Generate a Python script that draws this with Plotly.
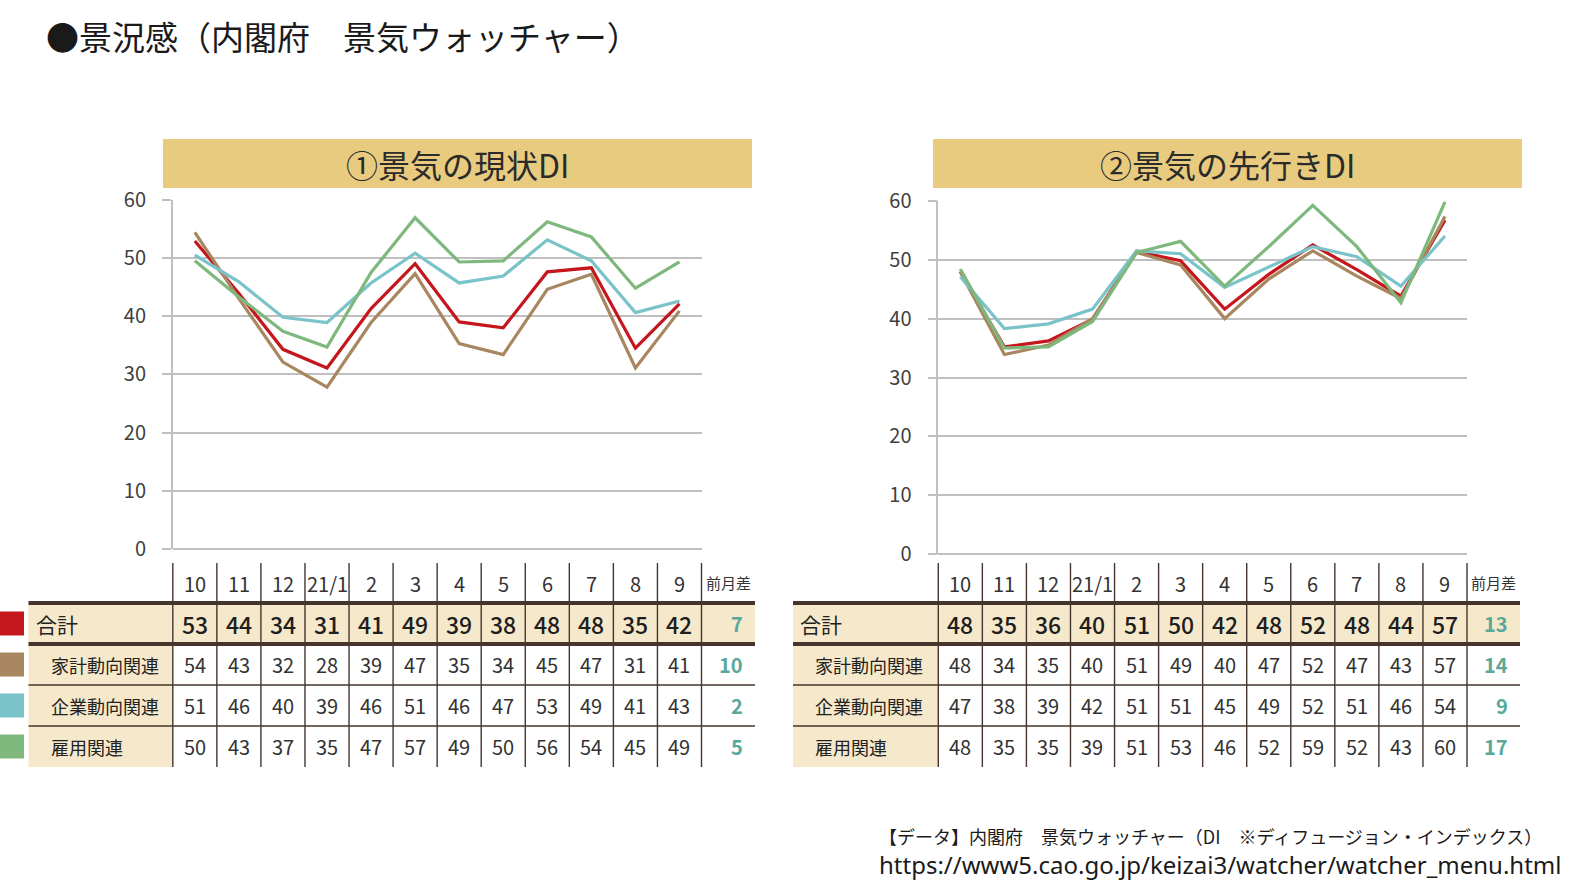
import plotly.graph_objects as go

W, H = 1594, 893
FONT = "Noto Sans CJK JP"

# ---------------- data ----------------
months = ["10", "11", "12", "21/1", "2", "3", "4", "5", "6", "7", "8", "9"]
series_names = ["合計", "家計動向関連", "企業動向関連", "雇用関連"]
series_colors = ["#C5161D", "#A8865F", "#7AC3C9", "#7FB87C"]
diff_header = "前月差"

# ① 景気の現状DI (line values)
cur_total = [52.9, 43.9, 34.3, 31.1, 41.3, 49.0, 39.0, 38.0, 47.6, 48.3, 34.5, 42.1]
cur_house = [54.4, 43.0, 32.1, 27.8, 38.9, 47.3, 35.3, 33.4, 44.6, 47.2, 31.1, 40.9]
cur_corp = [50.5, 45.9, 39.8, 38.9, 45.7, 50.8, 45.7, 46.9, 53.1, 49.5, 40.6, 42.6]
cur_employ = [49.5, 43.3, 37.4, 34.7, 47.5, 56.9, 49.3, 49.5, 56.2, 53.6, 44.8, 49.3]

# ① table values
cur_tab_total = [53, 44, 34, 31, 41, 49, 39, 38, 48, 48, 35, 42]
cur_tab_house = [54, 43, 32, 28, 39, 47, 35, 34, 45, 47, 31, 41]
cur_tab_corp = [51, 46, 40, 39, 46, 51, 46, 47, 53, 49, 41, 43]
cur_tab_employ = [50, 43, 37, 35, 47, 57, 49, 50, 56, 54, 45, 49]
cur_diff = [7, 10, 2, 5]

# ② 景気の先行きDI (line values)
fut_total = [48.0, 35.2, 36.2, 39.9, 51.4, 49.8, 41.6, 47.5, 52.5, 48.3, 43.8, 56.7]
fut_house = [47.9, 33.9, 35.5, 40.0, 51.2, 49.1, 40.0, 46.7, 51.5, 47.2, 43.4, 57.3]
fut_corp = [47.1, 38.3, 39.1, 41.6, 51.5, 51.0, 45.3, 48.8, 52.2, 50.5, 45.5, 54.0]
fut_employ = [48.4, 35.0, 35.2, 39.5, 51.2, 53.1, 45.5, 52.2, 59.2, 52.2, 42.7, 59.8]

# ② table values
fut_tab_total = [48, 35, 36, 40, 51, 50, 42, 48, 52, 48, 44, 57]
fut_tab_house = [48, 34, 35, 40, 51, 49, 40, 47, 52, 47, 43, 57]
fut_tab_corp = [47, 38, 39, 42, 51, 51, 45, 49, 52, 51, 46, 54]
fut_tab_employ = [48, 35, 35, 39, 51, 53, 46, 52, 59, 52, 43, 60]
fut_diff = [13, 14, 9, 17]

page_title = "●景況感（内閣府　景気ウォッチャー）"
chart_titles = ["①景気の現状DI", "②景気の先行きDI"]
note_line1 = "【データ】内閣府　景気ウォッチャー（DI　※ディフュージョン・インデックス）"
note_line2 = "https://www5.cao.go.jp/keizai3/watcher/watcher_menu.html"

# ---------------- layout constants (pixels) ----------------
def px(x):
    return x / W


def py(y):
    return 1 - y / H


panels = [
    dict(xa="x", ya="y", x0=172.8, x1=701.5, y60=199.7, y0=549.0,
         lab_x0=28.5, end_x=755.0, box=(163, 752),
         lines=[cur_total, cur_house, cur_corp, cur_employ],
         table=[cur_tab_total, cur_tab_house, cur_tab_corp, cur_tab_employ],
         diff=cur_diff, swatch=True),
    dict(xa="x2", ya="y2", x0=938.3, x1=1467.0, y60=200.7, y0=554.3,
         lab_x0=793.0, end_x=1520.0, box=(933, 1522),
         lines=[fut_total, fut_house, fut_corp, fut_employ],
         table=[fut_tab_total, fut_tab_house, fut_tab_corp, fut_tab_employ],
         diff=fut_diff, swatch=False),
]

HDR_TOP = 563
ROWS = [603, 644, 685, 726, 767]  # total top, row boundaries..., bottom
BOX_Y = (139, 188)

GOLD = "#E9CB80"
BEIGE = "#F6E9CB"
DARK = "#45352D"
TEAL = "#5AA899"
GRID = "#BFBFBF"

fig = go.Figure()
shapes = []
ann = []

for i, p in enumerate(panels):
    # line traces
    for name, vals, col in zip(series_names, p["lines"], series_colors):
        fig.add_trace(go.Scatter(x=months, y=vals, mode="lines", name=name,
                                 line=dict(color=col, width=3.2),
                                 xaxis=p["xa"], yaxis=p["ya"], showlegend=False,
                                 hoverinfo="skip"))
    # gold header box
    shapes.append(dict(type="rect", xref="paper", yref="paper",
                       x0=px(p["box"][0]), x1=px(p["box"][1]),
                       y0=py(BOX_Y[1]), y1=py(BOX_Y[0]),
                       fillcolor=GOLD, line=dict(width=0), layer="below"))
    ann.append(dict(text=chart_titles[i], xref="paper", yref="paper",
                    x=px((p["box"][0] + p["box"][1]) / 2), y=py(164),
                    xanchor="center", yanchor="middle", showarrow=False,
                    font=dict(family=FONT, size=32, color="#2B2B2B")))

    cw = (p["x1"] - p["x0"]) / len(months)
    # beige label column
    shapes.append(dict(type="rect", xref="paper", yref="paper",
                       x0=px(p["lab_x0"]), x1=px(p["x0"]),
                       y0=py(ROWS[-1]), y1=py(ROWS[0]),
                       fillcolor=BEIGE, line=dict(width=0), layer="below"))
    # beige total row
    shapes.append(dict(type="rect", xref="paper", yref="paper",
                       x0=px(p["lab_x0"]), x1=px(p["end_x"]),
                       y0=py(ROWS[1]), y1=py(ROWS[0]),
                       fillcolor=BEIGE, line=dict(width=0), layer="below"))
    # vertical separators
    for k in range(len(months) + 1):
        xx = p["x0"] + k * cw
        shapes.append(dict(type="line", xref="paper", yref="paper",
                           x0=px(xx), x1=px(xx), y0=py(HDR_TOP), y1=py(ROWS[-1]),
                           line=dict(color=DARK, width=1.4)))
    # thin horizontal lines
    for yy in ROWS[2:4]:
        shapes.append(dict(type="line", xref="paper", yref="paper",
                           x0=px(p["lab_x0"]), x1=px(p["end_x"]), y0=py(yy), y1=py(yy),
                           line=dict(color=DARK, width=1.4)))
    # thick lines around total row
    for yy in ROWS[0:2]:
        shapes.append(dict(type="line", xref="paper", yref="paper",
                           x0=px(p["lab_x0"]), x1=px(p["end_x"]), y0=py(yy), y1=py(yy),
                           line=dict(color=DARK, width=4)))

    # header labels (months) placed on the category axis by index
    for k, m in enumerate(months):
        ann.append(dict(text=m, xref=p["xa"], yref="paper", x=k, y=py(583),
                        xanchor="center", yanchor="middle", showarrow=False,
                        font=dict(family=FONT, size=20, color="#333333")))
    ann.append(dict(text=diff_header, xref="paper", yref="paper",
                    x=px((p["x1"] + p["end_x"]) / 2), y=py(582),
                    xanchor="center", yanchor="middle", showarrow=False,
                    font=dict(family=FONT, size=15, color="#333333")))

    # rows
    for r, (name, vals) in enumerate(zip(series_names, p["table"])):
        yc = (ROWS[r] + ROWS[r + 1]) / 2
        is_total = r == 0
        ann.append(dict(text=name, xref="paper", yref="paper",
                        x=px(p["lab_x0"] + (5 if is_total else 20)), y=py(yc),
                        xanchor="left", yanchor="middle", showarrow=False,
                        font=dict(family=FONT, size=21 if is_total else 18,
                                  color="#222222")))
        for k, v in enumerate(vals):
            ann.append(dict(text=str(v), xref=p["xa"], yref="paper", x=k, y=py(yc),
                            xanchor="center", yanchor="middle", showarrow=False,
                            font=dict(family=FONT, size=23 if is_total else 20,
                                      color="#1E1E1E" if is_total else "#333333",
                                      weight=500 if is_total else 400)))
        ann.append(dict(text=str(p["diff"][r]), xref="paper", yref="paper",
                        x=px(p["end_x"] - 10), y=py(yc),
                        xanchor="right", yanchor="middle", showarrow=False,
                        font=dict(family=FONT, size=20, color=TEAL, weight="bold")))
        if p["swatch"]:
            shapes.append(dict(type="rect", xref="paper", yref="paper",
                               x0=0, x1=px(24), y0=py(yc + 12), y1=py(yc - 12),
                               fillcolor=series_colors[r], line=dict(width=0)))

# page title and notes
ann.append(dict(text=page_title, xref="paper", yref="paper", x=px(44), y=py(36),
                xanchor="left", yanchor="middle", showarrow=False,
                font=dict(family=FONT, size=33, color="#1A1A1A")))
ann.append(dict(text=note_line1, xref="paper", yref="paper", x=px(877), y=py(836),
                xanchor="left", yanchor="middle", showarrow=False,
                font=dict(family=FONT, size=18, color="#1A1A1A")))
ann.append(dict(text=note_line2, xref="paper", yref="paper", x=px(877), y=py(864),
                xanchor="left", yanchor="middle", showarrow=False,
                font=dict(family="Noto Sans", size=24, color="#1A1A1A")))

layout_axes = {}
for i, p in enumerate(panels):
    sx = "" if i == 0 else "2"
    layout_axes["xaxis" + sx] = dict(
        type="category", domain=[px(p["x0"]), px(p["x1"])], range=[-0.5, 11.5],
        anchor="y" + sx, showticklabels=False, showgrid=False, zeroline=False,
        showline=False, ticks="", fixedrange=True, automargin=False)
    layout_axes["yaxis" + sx] = dict(
        domain=[py(p["y0"]), py(p["y60"])], range=[0, 60], dtick=10,
        anchor="x" + sx, showgrid=True, gridcolor=GRID, gridwidth=1.6,
        zeroline=True, zerolinecolor=GRID, zerolinewidth=1.6,
        showline=True, linecolor=GRID, linewidth=1.6,
        ticks="outside", ticklen=9, tickcolor=GRID, tickwidth=1.6,
        ticklabelstandoff=12, automargin=False,
        tickfont=dict(family=FONT, size=20, color="#404040"), fixedrange=True)

fig.update_layout(
    width=W, height=H, autosize=False, margin=dict(l=0, r=0, t=0, b=0, pad=0),
    paper_bgcolor="white", plot_bgcolor="white", showlegend=False,
    shapes=shapes, annotations=ann, **layout_axes)

fig.write_html("out.html")
